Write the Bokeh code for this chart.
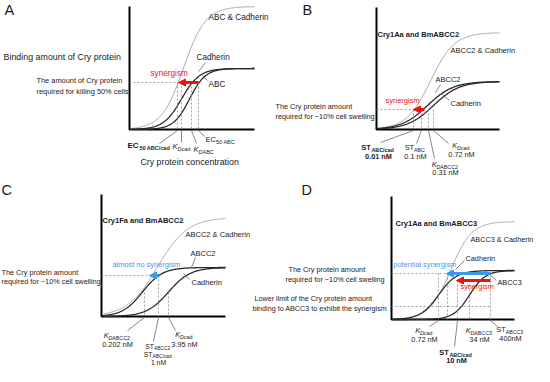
import numpy as np
from bokeh.plotting import figure
from bokeh.models import Range1d, ColumnDataSource, Arrow, NormalHead
from bokeh.core.properties import value
from bokeh.embed import file_html
from bokeh.resources import INLINE

FONT = "Liberation Sans"
BLACK = "#1a1a1a"
GRAY = "#a8a8a8"
DARK = "#2a2a2a"
RED = "#f01010"
BLUE = "#3a9ae8"
DASH = "#8a8a8a"
LEAD = "#555555"

# ---------------- data (schematic) ----------------
PANELS = ["A", "B", "C", "D"]
AX_X0 = [137, 384, 109, 399]
AX_X1 = [262, 507, 233, 522]
AX_YTOP = [14, 15, 202, 204]
AX_YBOT = [137, 137, 324, 327]

# curve parameters per panel: plateau level, midpoint (K_D), spread
A_names = ["ABC & Cadherin", "Cadherin", "ABC"]
A_plateau = [14, 76, 76]
A_mid = [191, 189, 197]
A_spread = [11, 9, 8]

B_names = ["ABCC2 & Cadherin", "ABCC2", "Cadherin"]
B_plateau = [40, 89, 89]
B_mid = [438, 435, 441]
B_spread = [12, 13, 13]

C_names = ["ABCC2 & Cadherin", "ABCC2", "Cadherin"]
C_plateau = [225, 275, 275]
C_mid = [165, 150, 176]
C_spread = [15, 10, 11]

D_names = ["ABCC3 & Cadherin", "Cadherin", "ABCC3"]
D_plateau = [229, 278, 278]
D_mid = [458, 446, 477]
D_spread = [10.5, 9, 8]

# reference levels & concentration markers
A_level = [90]
A_marks = [185, 189, 199, 206]          # EC50 ABC/cad, KD cad, KD ABC, EC50 ABC
B_level = [117]
B_marks = [421, 429, 436, 441]          # ST ABC/cad, ST ABC, KD ABCC2, KD cad
B_values = ["0.01 nM", "0.1 nM", "0.31 nM", "0.72 nM"]
C_level = [283]
C_marks = [152, 166, 176]               # KD ABCC2, ST, KD cad
C_values = ["0.202 nM", "1 nM", "3.95 nM"]
D_levels = [281, 314]
D_marks = [446, 455, 465, 477, 498]     # KD cad, -, ST ABC/cad, KD ABCC3, ST ABCC3
D_values = ["0.72 nM", "10 nM", "34 nM", "400nM"]

# ---------------- figure ----------------
p = figure(width=534, height=366, output_backend="svg", toolbar_location=None,
           x_range=Range1d(8, 542), y_range=Range1d(374, 8),
           x_axis_location=None, y_axis_location=None, min_border=0)
p.grid.visible = False
p.outline_line_color = None
p.background_fill_color = "white"

# axes of each panel
for x0, x1, yt, yb in zip(AX_X0, AX_X1, AX_YTOP, AX_YBOT):
    p.line([x0, x0, x1], [yt, yb, yb], line_color="black", line_width=2)


def curve(x0, x1, base, plateau, mid, spread, color, width):
    xs = np.linspace(x0 + 1, x1, 160)
    ys = base - (base - plateau) / (1 + np.exp(-(xs - mid) / spread))
    p.line(xs, ys, line_color=color, line_width=width)


for i, (pl, md, sp) in enumerate([(A_plateau, A_mid, A_spread), (B_plateau, B_mid, B_spread),
                                   (C_plateau, C_mid, C_spread), (D_plateau, D_mid, D_spread)]):
    for k in range(3):
        col, w = (GRAY, 1.0) if k == 0 else (DARK, 1.3)
        curve(AX_X0[i], AX_X1[i], AX_YBOT[i], pl[k], md[k], sp[k], col, w)

# dashed horizontal levels
hx0 = [137, 384, 109, 399, 399]
hx1 = [206, 432, 166, 455, 498]
hy = [A_level[0], B_level[0], C_level[0], D_levels[0], D_levels[1]]
p.segment(hx0, hy, hx1, hy, line_color=DASH, line_width=0.8, line_dash="2 2")

# dotted verticals
vx = A_marks + B_marks + C_marks + D_marks
vy0 = [90] * 4 + [117] * 4 + [300, 283, 300] + [281, 281, 288, 288, 281]
vy1 = [137] * 4 + [137] * 4 + [324] * 3 + [327] * 5
p.segment(vx, vy0, vx, vy1, line_color=DASH, line_width=0.8, line_dash="2 2")

# leader lines
leaders = [
    ((213, 70), (206, 79)), ((215, 88), (209, 82)), ((185, 138), (167, 151)),
    ((189, 138), (189, 150)), ((199, 138), (204, 151)), ((206, 138), (212, 144)),
    ((448, 92), (443, 100)), ((457, 108), (449, 101)), ((421, 138), (388, 150)),
    ((429, 138), (424, 151)), ((436, 138), (442, 166)), ((441, 138), (456, 151)),
    ((203, 265), (199, 275)), ((197, 287), (191, 281)), ((152, 325), (135, 338)),
    ((176, 325), (183, 338)), ((166, 325), (161, 349)),
    ((472, 268), (463, 277)), ((504, 288), (497, 282)), ((446, 328), (437, 334)),
    ((465, 328), (462, 354)), ((498, 328), (505, 334)),
]
p.multi_line([[a[0], b[0]] for a, b in leaders], [[a[1], b[1]] for a, b in leaders],
             line_color=LEAD, line_width=0.7)

# arrows
for col, xs0, xs1, ys in [(RED, [206, 432, 498], [186, 421, 464], [90, 117, 288]),
                          (BLUE, [167, 498], [157, 454], [283, 281])]:
    src = ColumnDataSource(dict(x0=xs0, y0=ys, x1=xs1, y1=ys))
    p.add_layout(Arrow(end=NormalHead(size=7, fill_color=col, line_color=col),
                       x_start="x0", y_start="y0", x_end="x1", y_end="y1",
                       line_color=col, line_width=3, source=src))

# ---------------- texts ----------------
W = {'A': 667, 'B': 667, 'C': 722, 'D': 722, 'E': 667, 'K': 667, 'S': 667, 'T': 611,
     'a': 556, 'b': 556, 'c': 500, 'd': 556, 'e': 556, 'f': 278, 'g': 556, 'h': 556,
     'i': 222, 'l': 222, 'm': 833, 'n': 556, 'o': 556, 'r': 333, 's': 500, 't': 278,
     'u': 556, 'y': 500, ' ': 278, '/': 278, '.': 278, '%': 889, 'M': 833}

T = dict(x=[], y=[], text=[], size=[], style=[], color=[], align=[])


def tw(s, size, style):
    w = sum(W.get(c, 556) for c in s) / 1000 * size
    return w * (1.07 if "bold" in style else 1.0)


def add(x, y, s, size, style="normal", color=BLACK, align="left"):
    T["x"].append(x); T["y"].append(y); T["text"].append(s)
    T["size"].append(f"{size}px"); T["style"].append(style)
    T["color"].append(color); T["align"].append(align)


def add_parts(x, y, parts, align="left", color=BLACK):
    total = sum(tw(s, sz, st) for s, sz, st, dy in parts)
    cx = x - total / 2 if align == "center" else x
    for s, sz, st, dy in parts:
        add(cx, y + dy, s, sz, st, color)
        cx += tw(s, sz, st)


def KD(sub, size=7.3):
    return [("K", size, "italic", 0), ("D", size * 0.72, "italic", 2.3),
            (" " + sub, size * 0.72, "normal", 2.3)]


def ST(sub, size=7.3, style="normal", dy=2.3):
    return [("ST", size, style, 0), (" " + sub, size * 0.72, style, dy)]


# panel letters
for lab, x, y in zip(PANELS, [12, 310, 9, 309], [17, 17, 197, 197]):
    add(x, y, lab, 14.5)

# Panel A
add(11, 64, "Binding amount of Cry protein", 8.9)
add(44, 88, "The amount of Cry protein", 7.4)
add(44, 99, "required for killing 50% cells", 7.4)
add(216, 25, A_names[0], 8.2)
add(204, 65, A_names[1], 8.2)
add(216, 92, A_names[2], 8.2)
add(158, 81, "synergism", 8.2, color=RED)
add(148, 169, "Cry protein concentration", 8.8)
add_parts(135, 153, [("EC", 8, "bold", 0), ("50 ABC/cad", 5.5, "bold", 2.4)])
add_parts(180, 154, KD("cad", 7.6))
add_parts(201, 157, KD("ABC", 7.6))
add_parts(213, 147, [("EC", 7.6, "normal", 0), ("50 ABC", 5.5, "normal", 2.4)])

# Panel B
add(385, 42, "Cry1Aa and BmABCC2", 7.5, "bold")
add(458, 58, B_names[0], 7.5)
add(443, 87, B_names[1], 7.5)
add(458, 111, B_names[2], 7.5)
add(393, 108, "synergism", 7.5, color=RED)
add(283, 114, "The Cry protein amount", 7.3)
add(283, 124, "required for ~10% cell swelling", 7.3)
add_parts(386, 155, ST("ABC/cad", 7.5, "bold"), "center")
add(386, 164, B_values[0], 7.3, "bold", align="center")
add_parts(423, 155, ST("ABC"), "center")
add(423, 164, B_values[1], 7.3, align="center")
add_parts(453, 172, KD("ABCC2"), "center")
add(453, 180, B_values[2], 7.3, align="center")
add_parts(469, 153, KD("cad"), "center")
add(469, 162, B_values[3], 7.3, align="center")

# Panel C
add(110, 228, "Cry1Fa and BmABCC2", 7.5, "bold")
add(193, 242, C_names[0], 7.5)
add(198, 261, C_names[1], 7.5)
add(199, 290, C_names[2], 7.5)
add(120, 272, "almost no synergism", 7.4, color=BLUE)
add(9, 280, "The Cry protein amount", 7.3)
add(9, 289, "required for ~10% cell swelling", 7.3)
add_parts(125, 343, KD("ABCC2"), "center")
add(125, 352, C_values[0], 7.3, align="center")
add_parts(192, 342, KD("cad"), "center")
add(192, 352, C_values[2], 7.3, align="center")
add_parts(166, 354, ST("ABCC2", 6.8, dy=1.6), "center")
add_parts(166, 362, ST("ABC/cad", 6.8, dy=1.6), "center")
add(166, 370, C_values[1], 6.8, align="center")

# Panel D
add(403, 231, "Cry1Aa and BmABCC3", 7.5, "bold")
add(478, 247, D_names[0], 7.3)
add(473, 266, D_names[1], 7.3)
add(505, 290, D_names[2], 7.3)
add(401, 272, "potential synergism", 7.3, color=BLUE)
add(468, 294, "synergism", 7.3, color=RED)
add(296, 277, "The Cry protein amount", 7.3)
add(293, 287, "required for ~10% cell swelling", 7.3)
add(262, 306, "Lower limit of the Cry protein amount", 7.2)
add(260, 316, "binding to ABCC3 to exhibit the synergism", 7.2)
add_parts(432, 338, KD("cad"), "center")
add(432, 347, D_values[0], 7.3, align="center")
add_parts(464, 360, ST("ABC/cad", 7.5, "bold"), "center")
add(464, 368, D_values[1], 7.3, "bold", align="center")
add_parts(487, 338, KD("ABCC3"), "center")
add(487, 347, D_values[2], 7.3, align="center")
add_parts(518, 337, ST("ABCC3"), "center")
add(518, 346, D_values[3], 7.3, align="center")

src = ColumnDataSource(T)
p.text(x="x", y="y", text="text", text_font=value(FONT), text_font_size="size",
       text_font_style="style", text_color="color", text_align="align",
       text_baseline="middle", source=src)

open("out.html", "w").write(file_html(p, INLINE))
